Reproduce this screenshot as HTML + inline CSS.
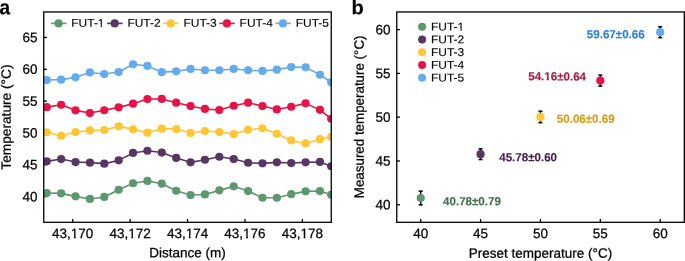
<!DOCTYPE html>
<html><head><meta charset="utf-8"><style>
html,body{margin:0;padding:0;background:#fff;overflow:hidden;}
svg{display:block;will-change:transform;}
text{font-family:"Liberation Sans", sans-serif;}
</style></head><body>
<svg xmlns="http://www.w3.org/2000/svg" width="685" height="261" viewBox="0 0 685 261">
<rect width="685" height="261" fill="#fff"/>
<defs><clipPath id="cl"><rect x="43.75" y="11.95" width="287.5" height="210.35000000000002"/></clipPath><clipPath id="ct6" clipPathUnits="userSpaceOnUse"><path clip-rule="evenodd" d="M-2000 -2000H3000V3000H-2000ZM-2.01 -2.55H1.22V2.50H-2.01ZM3.00 -2.55H5.57V2.50H3.00Z"/></clipPath><clipPath id="ct7" clipPathUnits="userSpaceOnUse"><path clip-rule="evenodd" d="M-2000 -2000H3000V3000H-2000ZM-2.01 -2.55H1.22V2.50H-2.01ZM3.00 -2.55H5.57V2.50H3.00Z"/></clipPath><clipPath id="ct8" clipPathUnits="userSpaceOnUse"><path clip-rule="evenodd" d="M-2000 -2000H3000V3000H-2000ZM-2.01 -2.55H1.22V2.50H-2.01ZM3.00 -2.55H5.57V2.50H3.00Z"/></clipPath><clipPath id="ct9" clipPathUnits="userSpaceOnUse"><path clip-rule="evenodd" d="M-2000 -2000H3000V3000H-2000ZM-2.01 -2.55H1.22V2.50H-2.01ZM3.00 -2.55H5.57V2.50H3.00Z"/></clipPath><clipPath id="ct10" clipPathUnits="userSpaceOnUse"><path clip-rule="evenodd" d="M-2000 -2000H3000V3000H-2000ZM-2.01 -2.55H1.22V2.50H-2.01ZM3.00 -2.55H5.57V2.50H3.00Z"/></clipPath><clipPath id="ct13" clipPathUnits="userSpaceOnUse"><path clip-rule="evenodd" d="M-2000 -2000H3000V3000H-2000ZM24.94 -2.38H27.64V2.50H24.94ZM29.13 -2.38H31.28V2.50H29.13Z"/></clipPath><clipPath id="ct32" clipPathUnits="userSpaceOnUse"><path clip-rule="evenodd" d="M-2000 -2000H3000V3000H-2000ZM24.94 -2.38H27.64V2.50H24.94ZM29.13 -2.38H31.28V2.50H29.13Z"/></clipPath><clipPath id="ct40" clipPathUnits="userSpaceOnUse"><path clip-rule="evenodd" d="M-2000 -2000H3000V3000H-2000ZM16.12 -2.73H18.69V2.50H16.12ZM20.84 -2.73H22.69V2.50H20.84Z"/></clipPath></defs>
<line x1="43.75" y1="196.57" x2="46.95" y2="196.57" stroke="#000" stroke-width="1.3"/>
<text id="t0" transform="translate(37.6,201.18) scale(1,1.0) skewY(0.05)" x="0.00" y="0.00" font-size="13.5" text-anchor="end" stroke="#000" stroke-width="0.25">40</text>
<line x1="43.75" y1="164.75" x2="46.95" y2="164.75" stroke="#000" stroke-width="1.3"/>
<text id="t1" transform="translate(37.6,169.35) scale(1,1.0) skewY(0.05)" x="0.00" y="0.00" font-size="13.5" text-anchor="end" stroke="#000" stroke-width="0.25">45</text>
<line x1="43.75" y1="132.93" x2="46.95" y2="132.93" stroke="#000" stroke-width="1.3"/>
<text id="t2" transform="translate(37.6,137.53) scale(1,1.0) skewY(0.05)" x="0.00" y="0.00" font-size="13.5" text-anchor="end" stroke="#000" stroke-width="0.25">50</text>
<line x1="43.75" y1="101.10" x2="46.95" y2="101.10" stroke="#000" stroke-width="1.3"/>
<text id="t3" transform="translate(37.6,105.70) scale(1,1.0) skewY(0.05)" x="0.00" y="0.00" font-size="13.5" text-anchor="end" stroke="#000" stroke-width="0.25">55</text>
<line x1="43.75" y1="69.28" x2="46.95" y2="69.28" stroke="#000" stroke-width="1.3"/>
<text id="t4" transform="translate(37.6,73.88) scale(1,1.0) skewY(0.05)" x="0.00" y="0.00" font-size="13.5" text-anchor="end" stroke="#000" stroke-width="0.25">60</text>
<line x1="43.75" y1="37.45" x2="46.95" y2="37.45" stroke="#000" stroke-width="1.3"/>
<text id="t5" transform="translate(37.6,42.05) scale(1,1.0) skewY(0.05)" x="0.00" y="0.00" font-size="13.5" text-anchor="end" stroke="#000" stroke-width="0.25">65</text>
<line x1="72.70" y1="222.3" x2="72.70" y2="219.10000000000002" stroke="#000" stroke-width="1.3"/>
<text id="t6" transform="translate(72.70,238.00) scale(1,1.0) skewY(0.05)" x="0.00" y="0.00" font-size="13.5" text-anchor="middle" stroke="#000" stroke-width="0.25" clip-path="url(#ct6)">43,170</text>
<line x1="130.12" y1="222.3" x2="130.12" y2="219.10000000000002" stroke="#000" stroke-width="1.3"/>
<text id="t7" transform="translate(130.12,238.00) scale(1,1.0) skewY(0.05)" x="0.00" y="0.00" font-size="13.5" text-anchor="middle" stroke="#000" stroke-width="0.25" clip-path="url(#ct7)">43,172</text>
<line x1="187.54" y1="222.3" x2="187.54" y2="219.10000000000002" stroke="#000" stroke-width="1.3"/>
<text id="t8" transform="translate(187.54,238.00) scale(1,1.0) skewY(0.05)" x="0.00" y="0.00" font-size="13.5" text-anchor="middle" stroke="#000" stroke-width="0.25" clip-path="url(#ct8)">43,174</text>
<line x1="244.96" y1="222.3" x2="244.96" y2="219.10000000000002" stroke="#000" stroke-width="1.3"/>
<text id="t9" transform="translate(244.96,238.00) scale(1,1.0) skewY(0.05)" x="0.00" y="0.00" font-size="13.5" text-anchor="middle" stroke="#000" stroke-width="0.25" clip-path="url(#ct9)">43,176</text>
<line x1="302.38" y1="222.3" x2="302.38" y2="219.10000000000002" stroke="#000" stroke-width="1.3"/>
<text id="t10" transform="translate(302.38,238.00) scale(1,1.0) skewY(0.05)" x="0.00" y="0.00" font-size="13.5" text-anchor="middle" stroke="#000" stroke-width="0.25" clip-path="url(#ct10)">43,178</text>
<g clip-path="url(#cl)">
<polyline points="46.77,193.06 61.15,193.36 75.53,196.36 89.91,198.96 104.29,196.96 118.67,189.76 133.05,183.26 147.43,180.96 161.81,183.66 176.19,190.76 190.57,195.06 204.95,194.46 219.33,190.36 233.71,186.36 248.09,191.06 262.47,197.76 276.85,197.76 291.23,194.16 305.61,191.36 319.99,191.06 331.20,194.76" fill="none" stroke="#5c986e" stroke-width="1.6" stroke-linejoin="round"/>
<circle cx="46.77" cy="193.06" r="4.1" fill="#5c986e"/>
<circle cx="61.15" cy="193.36" r="4.1" fill="#5c986e"/>
<circle cx="75.53" cy="196.36" r="4.1" fill="#5c986e"/>
<circle cx="89.91" cy="198.96" r="4.1" fill="#5c986e"/>
<circle cx="104.29" cy="196.96" r="4.1" fill="#5c986e"/>
<circle cx="118.67" cy="189.76" r="4.1" fill="#5c986e"/>
<circle cx="133.05" cy="183.26" r="4.1" fill="#5c986e"/>
<circle cx="147.43" cy="180.96" r="4.1" fill="#5c986e"/>
<circle cx="161.81" cy="183.66" r="4.1" fill="#5c986e"/>
<circle cx="176.19" cy="190.76" r="4.1" fill="#5c986e"/>
<circle cx="190.57" cy="195.06" r="4.1" fill="#5c986e"/>
<circle cx="204.95" cy="194.46" r="4.1" fill="#5c986e"/>
<circle cx="219.33" cy="190.36" r="4.1" fill="#5c986e"/>
<circle cx="233.71" cy="186.36" r="4.1" fill="#5c986e"/>
<circle cx="248.09" cy="191.06" r="4.1" fill="#5c986e"/>
<circle cx="262.47" cy="197.76" r="4.1" fill="#5c986e"/>
<circle cx="276.85" cy="197.76" r="4.1" fill="#5c986e"/>
<circle cx="291.23" cy="194.16" r="4.1" fill="#5c986e"/>
<circle cx="305.61" cy="191.36" r="4.1" fill="#5c986e"/>
<circle cx="319.99" cy="191.06" r="4.1" fill="#5c986e"/>
<circle cx="331.20" cy="194.76" r="4.1" fill="#5c986e"/>
<polyline points="46.77,161.36 61.15,159.06 75.53,162.06 89.91,162.66 104.29,163.66 118.67,160.36 133.05,152.96 147.43,150.76 161.81,152.56 176.19,157.96 190.57,162.36 204.95,159.76 219.33,156.76 233.71,159.06 248.09,162.76 262.47,163.36 276.85,162.36 291.23,163.06 305.61,162.36 319.99,161.96 331.20,166.26" fill="none" stroke="#583664" stroke-width="1.6" stroke-linejoin="round"/>
<circle cx="46.77" cy="161.36" r="4.1" fill="#583664"/>
<circle cx="61.15" cy="159.06" r="4.1" fill="#583664"/>
<circle cx="75.53" cy="162.06" r="4.1" fill="#583664"/>
<circle cx="89.91" cy="162.66" r="4.1" fill="#583664"/>
<circle cx="104.29" cy="163.66" r="4.1" fill="#583664"/>
<circle cx="118.67" cy="160.36" r="4.1" fill="#583664"/>
<circle cx="133.05" cy="152.96" r="4.1" fill="#583664"/>
<circle cx="147.43" cy="150.76" r="4.1" fill="#583664"/>
<circle cx="161.81" cy="152.56" r="4.1" fill="#583664"/>
<circle cx="176.19" cy="157.96" r="4.1" fill="#583664"/>
<circle cx="190.57" cy="162.36" r="4.1" fill="#583664"/>
<circle cx="204.95" cy="159.76" r="4.1" fill="#583664"/>
<circle cx="219.33" cy="156.76" r="4.1" fill="#583664"/>
<circle cx="233.71" cy="159.06" r="4.1" fill="#583664"/>
<circle cx="248.09" cy="162.76" r="4.1" fill="#583664"/>
<circle cx="262.47" cy="163.36" r="4.1" fill="#583664"/>
<circle cx="276.85" cy="162.36" r="4.1" fill="#583664"/>
<circle cx="291.23" cy="163.06" r="4.1" fill="#583664"/>
<circle cx="305.61" cy="162.36" r="4.1" fill="#583664"/>
<circle cx="319.99" cy="161.96" r="4.1" fill="#583664"/>
<circle cx="331.20" cy="166.26" r="4.1" fill="#583664"/>
<polyline points="46.77,132.26 61.15,135.76 75.53,132.06 89.91,130.46 104.29,130.06 118.67,126.36 133.05,129.36 147.43,132.66 161.81,128.66 176.19,129.06 190.57,132.96 204.95,131.06 219.33,132.06 233.71,134.06 248.09,129.76 262.47,128.26 276.85,133.76 291.23,140.46 305.61,143.46 319.99,139.16 331.20,136.76" fill="none" stroke="#fec632" stroke-width="1.6" stroke-linejoin="round"/>
<circle cx="46.77" cy="132.26" r="4.1" fill="#fec632"/>
<circle cx="61.15" cy="135.76" r="4.1" fill="#fec632"/>
<circle cx="75.53" cy="132.06" r="4.1" fill="#fec632"/>
<circle cx="89.91" cy="130.46" r="4.1" fill="#fec632"/>
<circle cx="104.29" cy="130.06" r="4.1" fill="#fec632"/>
<circle cx="118.67" cy="126.36" r="4.1" fill="#fec632"/>
<circle cx="133.05" cy="129.36" r="4.1" fill="#fec632"/>
<circle cx="147.43" cy="132.66" r="4.1" fill="#fec632"/>
<circle cx="161.81" cy="128.66" r="4.1" fill="#fec632"/>
<circle cx="176.19" cy="129.06" r="4.1" fill="#fec632"/>
<circle cx="190.57" cy="132.96" r="4.1" fill="#fec632"/>
<circle cx="204.95" cy="131.06" r="4.1" fill="#fec632"/>
<circle cx="219.33" cy="132.06" r="4.1" fill="#fec632"/>
<circle cx="233.71" cy="134.06" r="4.1" fill="#fec632"/>
<circle cx="248.09" cy="129.76" r="4.1" fill="#fec632"/>
<circle cx="262.47" cy="128.26" r="4.1" fill="#fec632"/>
<circle cx="276.85" cy="133.76" r="4.1" fill="#fec632"/>
<circle cx="291.23" cy="140.46" r="4.1" fill="#fec632"/>
<circle cx="305.61" cy="143.46" r="4.1" fill="#fec632"/>
<circle cx="319.99" cy="139.16" r="4.1" fill="#fec632"/>
<circle cx="331.20" cy="136.76" r="4.1" fill="#fec632"/>
<polyline points="46.77,107.16 61.15,104.76 75.53,110.36 89.91,113.06 104.29,110.26 118.67,107.36 133.05,103.66 147.43,99.06 161.81,98.96 176.19,102.66 190.57,106.06 204.95,108.96 219.33,110.06 233.71,105.76 248.09,102.66 262.47,106.06 276.85,109.46 291.23,106.76 305.61,103.36 319.99,109.86 331.20,118.76" fill="none" stroke="#e91246" stroke-width="1.6" stroke-linejoin="round"/>
<circle cx="46.77" cy="107.16" r="4.1" fill="#e91246"/>
<circle cx="61.15" cy="104.76" r="4.1" fill="#e91246"/>
<circle cx="75.53" cy="110.36" r="4.1" fill="#e91246"/>
<circle cx="89.91" cy="113.06" r="4.1" fill="#e91246"/>
<circle cx="104.29" cy="110.26" r="4.1" fill="#e91246"/>
<circle cx="118.67" cy="107.36" r="4.1" fill="#e91246"/>
<circle cx="133.05" cy="103.66" r="4.1" fill="#e91246"/>
<circle cx="147.43" cy="99.06" r="4.1" fill="#e91246"/>
<circle cx="161.81" cy="98.96" r="4.1" fill="#e91246"/>
<circle cx="176.19" cy="102.66" r="4.1" fill="#e91246"/>
<circle cx="190.57" cy="106.06" r="4.1" fill="#e91246"/>
<circle cx="204.95" cy="108.96" r="4.1" fill="#e91246"/>
<circle cx="219.33" cy="110.06" r="4.1" fill="#e91246"/>
<circle cx="233.71" cy="105.76" r="4.1" fill="#e91246"/>
<circle cx="248.09" cy="102.66" r="4.1" fill="#e91246"/>
<circle cx="262.47" cy="106.06" r="4.1" fill="#e91246"/>
<circle cx="276.85" cy="109.46" r="4.1" fill="#e91246"/>
<circle cx="291.23" cy="106.76" r="4.1" fill="#e91246"/>
<circle cx="305.61" cy="103.36" r="4.1" fill="#e91246"/>
<circle cx="319.99" cy="109.86" r="4.1" fill="#e91246"/>
<circle cx="331.20" cy="118.76" r="4.1" fill="#e91246"/>
<polyline points="46.77,80.06 61.15,79.66 75.53,77.36 89.91,72.46 104.29,74.06 118.67,72.06 133.05,64.26 147.43,65.96 161.81,72.16 176.19,71.36 190.57,68.96 204.95,70.26 219.33,70.26 233.71,68.96 248.09,70.26 262.47,70.96 276.85,69.66 291.23,67.06 305.61,67.36 319.99,74.76 331.20,82.26" fill="none" stroke="#64abeb" stroke-width="1.6" stroke-linejoin="round"/>
<circle cx="46.77" cy="80.06" r="4.1" fill="#64abeb"/>
<circle cx="61.15" cy="79.66" r="4.1" fill="#64abeb"/>
<circle cx="75.53" cy="77.36" r="4.1" fill="#64abeb"/>
<circle cx="89.91" cy="72.46" r="4.1" fill="#64abeb"/>
<circle cx="104.29" cy="74.06" r="4.1" fill="#64abeb"/>
<circle cx="118.67" cy="72.06" r="4.1" fill="#64abeb"/>
<circle cx="133.05" cy="64.26" r="4.1" fill="#64abeb"/>
<circle cx="147.43" cy="65.96" r="4.1" fill="#64abeb"/>
<circle cx="161.81" cy="72.16" r="4.1" fill="#64abeb"/>
<circle cx="176.19" cy="71.36" r="4.1" fill="#64abeb"/>
<circle cx="190.57" cy="68.96" r="4.1" fill="#64abeb"/>
<circle cx="204.95" cy="70.26" r="4.1" fill="#64abeb"/>
<circle cx="219.33" cy="70.26" r="4.1" fill="#64abeb"/>
<circle cx="233.71" cy="68.96" r="4.1" fill="#64abeb"/>
<circle cx="248.09" cy="70.26" r="4.1" fill="#64abeb"/>
<circle cx="262.47" cy="70.96" r="4.1" fill="#64abeb"/>
<circle cx="276.85" cy="69.66" r="4.1" fill="#64abeb"/>
<circle cx="291.23" cy="67.06" r="4.1" fill="#64abeb"/>
<circle cx="305.61" cy="67.36" r="4.1" fill="#64abeb"/>
<circle cx="319.99" cy="74.76" r="4.1" fill="#64abeb"/>
<circle cx="331.20" cy="82.26" r="4.1" fill="#64abeb"/>
</g>
<rect x="43.75" y="11.95" width="287.5" height="210.35000000000002" fill="none" stroke="#000" stroke-width="1.3"/>
<text id="t11" transform="translate(187.6,257.2) scale(1,1.0) skewY(0.05)" x="0.00" y="0.00" font-size="13.5" text-anchor="middle" stroke="#000" stroke-width="0.25">Distance (m)</text>
<text id="t12" transform="translate(10.700000000000001,117.1) rotate(-90) scale(1.016,1.0) skewY(0.05)" x="0.00" y="0.00" font-size="13.5" text-anchor="middle" stroke="#000" stroke-width="0.25">Temperature (°C)</text>
<line x1="51.00" y1="23.4" x2="66.50" y2="23.4" stroke="#5c986e" stroke-width="1.6"/>
<circle cx="58.60" cy="23.4" r="4.1" fill="#5c986e"/>
<text id="t13" transform="translate(71.30,26.8) scale(1.06,1) skewY(0.05)" x="0.00" y="0.00" font-size="11.3" stroke="#000" stroke-width="0.12" clip-path="url(#ct13)">FUT-1</text>
<line x1="107.10" y1="23.4" x2="122.60" y2="23.4" stroke="#583664" stroke-width="1.6"/>
<circle cx="114.70" cy="23.4" r="4.1" fill="#583664"/>
<text id="t14" transform="translate(127.40,26.8) scale(1.06,1) skewY(0.05)" x="0.00" y="0.00" font-size="11.3" stroke="#000" stroke-width="0.12">FUT-2</text>
<line x1="163.20" y1="23.4" x2="178.70" y2="23.4" stroke="#fec632" stroke-width="1.6"/>
<circle cx="170.80" cy="23.4" r="4.1" fill="#fec632"/>
<text id="t15" transform="translate(183.50,26.8) scale(1.06,1) skewY(0.05)" x="0.00" y="0.00" font-size="11.3" stroke="#000" stroke-width="0.12">FUT-3</text>
<line x1="219.30" y1="23.4" x2="234.80" y2="23.4" stroke="#e91246" stroke-width="1.6"/>
<circle cx="226.90" cy="23.4" r="4.1" fill="#e91246"/>
<text id="t16" transform="translate(239.60,26.8) scale(1.06,1) skewY(0.05)" x="0.00" y="0.00" font-size="11.3" stroke="#000" stroke-width="0.12">FUT-4</text>
<line x1="275.40" y1="23.4" x2="290.90" y2="23.4" stroke="#64abeb" stroke-width="1.6"/>
<circle cx="283.00" cy="23.4" r="4.1" fill="#64abeb"/>
<text id="t17" transform="translate(295.70,26.8) scale(1.06,1) skewY(0.05)" x="0.00" y="0.00" font-size="11.3" stroke="#000" stroke-width="0.12">FUT-5</text>
<text id="t18" transform="translate(-0.6,14.15) scale(0.95,1.02) skewY(0.05)" x="0.00" y="0.00" font-size="20" font-weight="bold" stroke="#000" stroke-width="0.15">a</text>
<line x1="396.75" y1="204.78" x2="399.95" y2="204.78" stroke="#000" stroke-width="1.3"/>
<text id="t19" transform="translate(390.5,209.38) scale(1,1.0) skewY(0.05)" x="0.00" y="0.00" font-size="13.5" text-anchor="end" stroke="#000" stroke-width="0.25">40</text>
<line x1="420.70" y1="222.3" x2="420.70" y2="219.10000000000002" stroke="#000" stroke-width="1.3"/>
<text id="t20" transform="translate(420.70,238.00) scale(1,1.0) skewY(0.05)" x="0.00" y="0.00" font-size="13.5" text-anchor="middle" stroke="#000" stroke-width="0.25">40</text>
<line x1="396.75" y1="160.98" x2="399.95" y2="160.98" stroke="#000" stroke-width="1.3"/>
<text id="t21" transform="translate(390.5,165.59) scale(1,1.0) skewY(0.05)" x="0.00" y="0.00" font-size="13.5" text-anchor="end" stroke="#000" stroke-width="0.25">45</text>
<line x1="480.57" y1="222.3" x2="480.57" y2="219.10000000000002" stroke="#000" stroke-width="1.3"/>
<text id="t22" transform="translate(480.57,238.00) scale(1,1.0) skewY(0.05)" x="0.00" y="0.00" font-size="13.5" text-anchor="middle" stroke="#000" stroke-width="0.25">45</text>
<line x1="396.75" y1="117.19" x2="399.95" y2="117.19" stroke="#000" stroke-width="1.3"/>
<text id="t23" transform="translate(390.5,121.79) scale(1,1.0) skewY(0.05)" x="0.00" y="0.00" font-size="13.5" text-anchor="end" stroke="#000" stroke-width="0.25">50</text>
<line x1="540.45" y1="222.3" x2="540.45" y2="219.10000000000002" stroke="#000" stroke-width="1.3"/>
<text id="t24" transform="translate(540.45,238.00) scale(1,1.0) skewY(0.05)" x="0.00" y="0.00" font-size="13.5" text-anchor="middle" stroke="#000" stroke-width="0.25">50</text>
<line x1="396.75" y1="73.40" x2="399.95" y2="73.40" stroke="#000" stroke-width="1.3"/>
<text id="t25" transform="translate(390.5,78.00) scale(1,1.0) skewY(0.05)" x="0.00" y="0.00" font-size="13.5" text-anchor="end" stroke="#000" stroke-width="0.25">55</text>
<line x1="600.33" y1="222.3" x2="600.33" y2="219.10000000000002" stroke="#000" stroke-width="1.3"/>
<text id="t26" transform="translate(600.33,238.00) scale(1,1.0) skewY(0.05)" x="0.00" y="0.00" font-size="13.5" text-anchor="middle" stroke="#000" stroke-width="0.25">55</text>
<line x1="396.75" y1="29.60" x2="399.95" y2="29.60" stroke="#000" stroke-width="1.3"/>
<text id="t27" transform="translate(390.5,34.20) scale(1,1.0) skewY(0.05)" x="0.00" y="0.00" font-size="13.5" text-anchor="end" stroke="#000" stroke-width="0.25">60</text>
<line x1="660.20" y1="222.3" x2="660.20" y2="219.10000000000002" stroke="#000" stroke-width="1.3"/>
<text id="t28" transform="translate(660.20,238.00) scale(1,1.0) skewY(0.05)" x="0.00" y="0.00" font-size="13.5" text-anchor="middle" stroke="#000" stroke-width="0.25">60</text>
<rect x="396.75" y="11.95" width="287.54999999999995" height="210.35000000000002" fill="none" stroke="#000" stroke-width="1.3"/>
<text id="t29" transform="translate(540.4,257.8) scale(1,1.0) skewY(0.05)" x="0.00" y="0.00" font-size="13.5" text-anchor="middle" stroke="#000" stroke-width="0.25">Preset temperature (°C)</text>
<text id="t30" transform="translate(363.7,116.85) rotate(-90) scale(0.99,1.0) skewY(0.05)" x="0.00" y="0.00" font-size="13.5" text-anchor="middle" stroke="#000" stroke-width="0.25">Measured temperature (°C)</text>
<text id="t31" transform="translate(351.6,14.15) skewY(0.05)" x="0.00" y="0.00" font-size="20" font-weight="bold" stroke="#000" stroke-width="0.15">b</text>
<circle cx="422.1" cy="26.80" r="4.0" fill="#5c986e"/>
<text id="t32" transform="translate(431.0,30.55) scale(1.06,1) skewY(0.05)" x="0.00" y="0.00" font-size="11.3" stroke="#000" stroke-width="0.12" clip-path="url(#ct32)">FUT-1</text>
<circle cx="422.1" cy="39.55" r="4.0" fill="#583664"/>
<text id="t33" transform="translate(431.0,43.30) scale(1.06,1) skewY(0.05)" x="0.00" y="0.00" font-size="11.3" stroke="#000" stroke-width="0.12">FUT-2</text>
<circle cx="422.1" cy="52.30" r="4.0" fill="#fec632"/>
<text id="t34" transform="translate(431.0,56.05) scale(1.06,1) skewY(0.05)" x="0.00" y="0.00" font-size="11.3" stroke="#000" stroke-width="0.12">FUT-3</text>
<circle cx="422.1" cy="65.05" r="4.0" fill="#e91246"/>
<text id="t35" transform="translate(431.0,68.80) scale(1.06,1) skewY(0.05)" x="0.00" y="0.00" font-size="11.3" stroke="#000" stroke-width="0.12">FUT-4</text>
<circle cx="422.1" cy="77.80" r="4.0" fill="#64abeb"/>
<text id="t36" transform="translate(431.0,81.55) scale(1.06,1) skewY(0.05)" x="0.00" y="0.00" font-size="11.3" stroke="#000" stroke-width="0.12">FUT-5</text>
<line x1="420.70" y1="191.15" x2="420.70" y2="204.85" stroke="#000" stroke-width="1.4"/>
<line x1="418.70" y1="191.15" x2="422.70" y2="191.15" stroke="#000" stroke-width="1.5"/>
<line x1="418.70" y1="204.85" x2="422.70" y2="204.85" stroke="#000" stroke-width="1.5"/>
<circle cx="420.70" cy="198.00" r="4.1" fill="#5c986e"/>
<text id="t37" transform="translate(443.05,205.15) scale(0.99,1.0) skewY(0.05)" x="0.00" y="0.00" font-size="11.7" font-weight="bold" fill="#44714d" stroke="#44714d" stroke-width="0.15">40.78±0.79</text>
<line x1="480.57" y1="148.85" x2="480.57" y2="159.55" stroke="#000" stroke-width="1.4"/>
<line x1="478.57" y1="148.85" x2="482.57" y2="148.85" stroke="#000" stroke-width="1.5"/>
<line x1="478.57" y1="159.55" x2="482.57" y2="159.55" stroke="#000" stroke-width="1.5"/>
<circle cx="480.57" cy="154.20" r="4.1" fill="#583664"/>
<text id="t38" transform="translate(499.25,161.20) scale(0.99,1.0) skewY(0.05)" x="0.00" y="0.00" font-size="11.7" font-weight="bold" fill="#432449" stroke="#432449" stroke-width="0.15">45.78±0.60</text>
<line x1="540.45" y1="111.20" x2="540.45" y2="122.70" stroke="#000" stroke-width="1.4"/>
<line x1="538.45" y1="111.20" x2="542.45" y2="111.20" stroke="#000" stroke-width="1.5"/>
<line x1="538.45" y1="122.70" x2="542.45" y2="122.70" stroke="#000" stroke-width="1.5"/>
<circle cx="540.45" cy="116.95" r="4.1" fill="#fec632"/>
<text id="t39" transform="translate(556.80,122.65) scale(0.99,1.0) skewY(0.05)" x="0.00" y="0.00" font-size="11.7" font-weight="bold" fill="#d49c14" stroke="#d49c14" stroke-width="0.15">50.06±0.69</text>
<line x1="600.33" y1="75.10" x2="600.33" y2="86.10" stroke="#000" stroke-width="1.4"/>
<line x1="598.33" y1="75.10" x2="602.33" y2="75.10" stroke="#000" stroke-width="1.5"/>
<line x1="598.33" y1="86.10" x2="602.33" y2="86.10" stroke="#000" stroke-width="1.5"/>
<circle cx="600.33" cy="80.60" r="4.1" fill="#e91246"/>
<text id="t40" transform="translate(528.25,80.35) scale(0.99,1.0) skewY(0.05)" x="0.00" y="0.00" font-size="11.7" font-weight="bold" fill="#a91b45" stroke="#a91b45" stroke-width="0.15" clip-path="url(#ct40)">54.16±0.64</text>
<line x1="660.20" y1="26.75" x2="660.20" y2="37.65" stroke="#000" stroke-width="1.4"/>
<line x1="658.20" y1="26.75" x2="662.20" y2="26.75" stroke="#000" stroke-width="1.5"/>
<line x1="658.20" y1="37.65" x2="662.20" y2="37.65" stroke="#000" stroke-width="1.5"/>
<circle cx="660.20" cy="32.20" r="4.1" fill="#64abeb"/>
<text id="t41" transform="translate(586.85,38.25) scale(0.99,1.0) skewY(0.05)" x="0.00" y="0.00" font-size="11.7" font-weight="bold" fill="#2883d4" stroke="#2883d4" stroke-width="0.15">59.67±0.66</text>
</svg>
</body></html>
